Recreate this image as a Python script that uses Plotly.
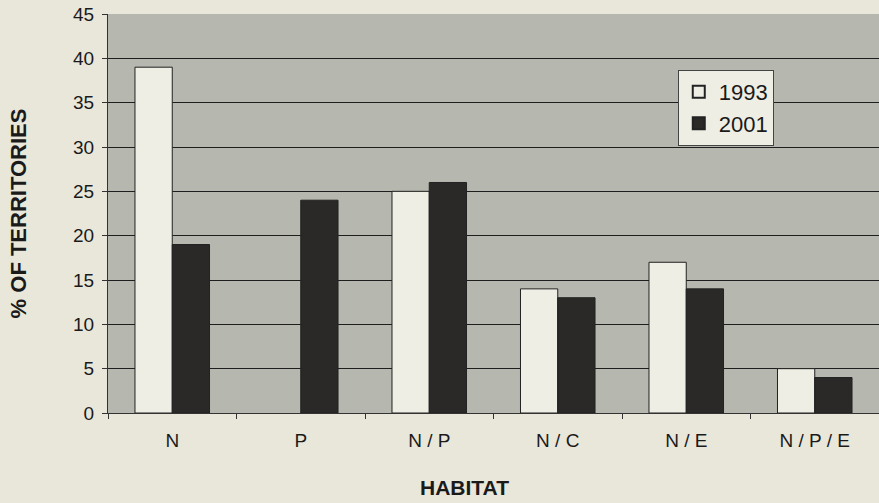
import plotly.graph_objects as go

habitats = ["N", "P", "N / P", "N / C", "N / E", "N / P / E"]
pct_1993 = [39, None, 25, 14, 17, 5]
pct_2001 = [19, 24, 26, 13, 14, 4]
y_ticks = [0, 5, 10, 15, 20, 25, 30, 35, 40, 45]

fig = go.Figure()
fig.add_trace(go.Bar(
    x=habitats, y=pct_1993, name="1993",
    marker=dict(color="#efeee4", line=dict(color="#222222", width=1)),
))
fig.add_trace(go.Bar(
    x=habitats, y=pct_2001, name="2001",
    marker=dict(color="#2a2928", line=dict(color="#222222", width=1)),
))

fig.update_layout(
    width=879, height=503,
    margin=dict(l=108, r=0, t=14, b=90),
    paper_bgcolor="#e9e7da",
    plot_bgcolor="#b6b7ae",
    barmode="group",
    bargap=0.42,
    bargroupgap=0,
    font=dict(family="Arial, Liberation Sans, sans-serif", color="#1a1a1a", size=19),
    showlegend=True,
    legend=dict(
        x=0.739, y=0.86, xanchor="left", yanchor="top",
        bgcolor="#efeee4", bordercolor="#444444", borderwidth=1,
        font=dict(size=22), traceorder="normal",
        itemsizing="constant", itemwidth=30,
    ),
    xaxis=dict(
        showgrid=False,
        ticks="outside", ticklen=5, tickcolor="#333333",
        tickson="boundaries",
        ticklabelstandoff=10,
        showline=True, linecolor="#333333", linewidth=1,
    ),
    yaxis=dict(
        range=[0, 45], tickvals=y_ticks,
        showgrid=True, gridcolor="#1e1e1e", gridwidth=1,
        ticks="outside", ticklen=5, tickcolor="#333333",
        ticklabelstandoff=4,
        showline=True, linecolor="#333333", linewidth=1,
        zeroline=False,
        title=dict(text="<b>% OF TERRITORIES</b>", font=dict(size=22), standoff=40),
    ),
    annotations=[dict(
        text="<b>HABITAT</b>", xref="paper", yref="paper",
        x=0.463, y=-0.186, xanchor="center", yanchor="middle",
        showarrow=False, font=dict(size=21),
    )],
)

fig.write_html("out.html")
